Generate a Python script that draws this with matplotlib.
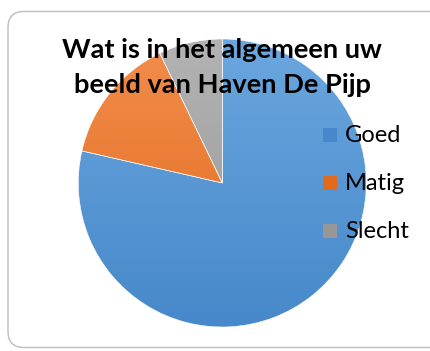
import numpy as np
import matplotlib.pyplot as plt
from matplotlib.patches import FancyBboxPatch, Rectangle

labels = ['Goed', 'Matig', 'Slecht']
values = [11, 2, 1]
top_colors = ['#6BA7DF', '#F28D4C', '#B3B3B3']
bottom_colors = ['#4688C9', '#E26A1C', '#979797']
title_lines = ['Wat is in het algemeen uw', 'beeld van Haven De Pijp']

W, H = 430, 351
fig = plt.figure(figsize=(W / 100, H / 100), dpi=100)
ax = fig.add_axes([0, 0, 1, 1])
ax.set_xlim(0, W)
ax.set_ylim(0, H)
ax.set_aspect('equal')
ax.axis('off')

# chart border (rounded)
ax.add_patch(FancyBboxPatch((8, 3.5), 440, 336, boxstyle='round,pad=0,rounding_size=16',
                            fc='white', ec='#BDBDBD', lw=1.0, zorder=0))

cx, cy, r = 222.3, H - 183, 144
wedges, _ = ax.pie(values, startangle=90, counterclock=False, radius=r, center=(cx, cy),
                   colors=top_colors, frame=True,
                   wedgeprops=dict(edgecolor='white', linewidth=0.4))
ax.set_xlim(0, W)
ax.set_ylim(0, H)
ax.axis('off')

# vertical gradient fill per wedge
for w, c1, c2 in zip(wedges, top_colors, bottom_colors):
    a = np.array(plt.matplotlib.colors.to_rgb(c1))
    b = np.array(plt.matplotlib.colors.to_rgb(c2))
    t = np.linspace(0, 1, 256)[:, None]
    img = (a * (1 - t) + b * t)[:, None, :]
    im = ax.imshow(img, extent=(cx - r, cx + r, cy - r, cy + r), origin='upper',
                   aspect='auto', zorder=1.5, interpolation='bilinear')
    im.set_clip_path(w)
    w.set_zorder(1.6)
    w.set_facecolor('none')

# title
ax.text(222, H - 57.5, title_lines[0], ha='center', va='baseline', fontsize=19.6,
        fontweight='bold', family='Lato', color='black', zorder=5)
ax.text(222, H - 93, title_lines[1], ha='center', va='baseline', fontsize=19.6,
        fontweight='bold', family='Lato', color='black', zorder=5)

# legend
leg_y = [135, 183, 231]
for lab, c1, c2, y in zip(labels, top_colors, bottom_colors, leg_y):
    ax.add_patch(Rectangle((323, H - y - 7), 14, 14, fc=c2, ec='none', zorder=5))
    ax.text(345, H - y, lab, ha='left', va='center', fontsize=17, family='Lato',
            color='black', zorder=5)

fig.savefig('out.png', dpi=100)
